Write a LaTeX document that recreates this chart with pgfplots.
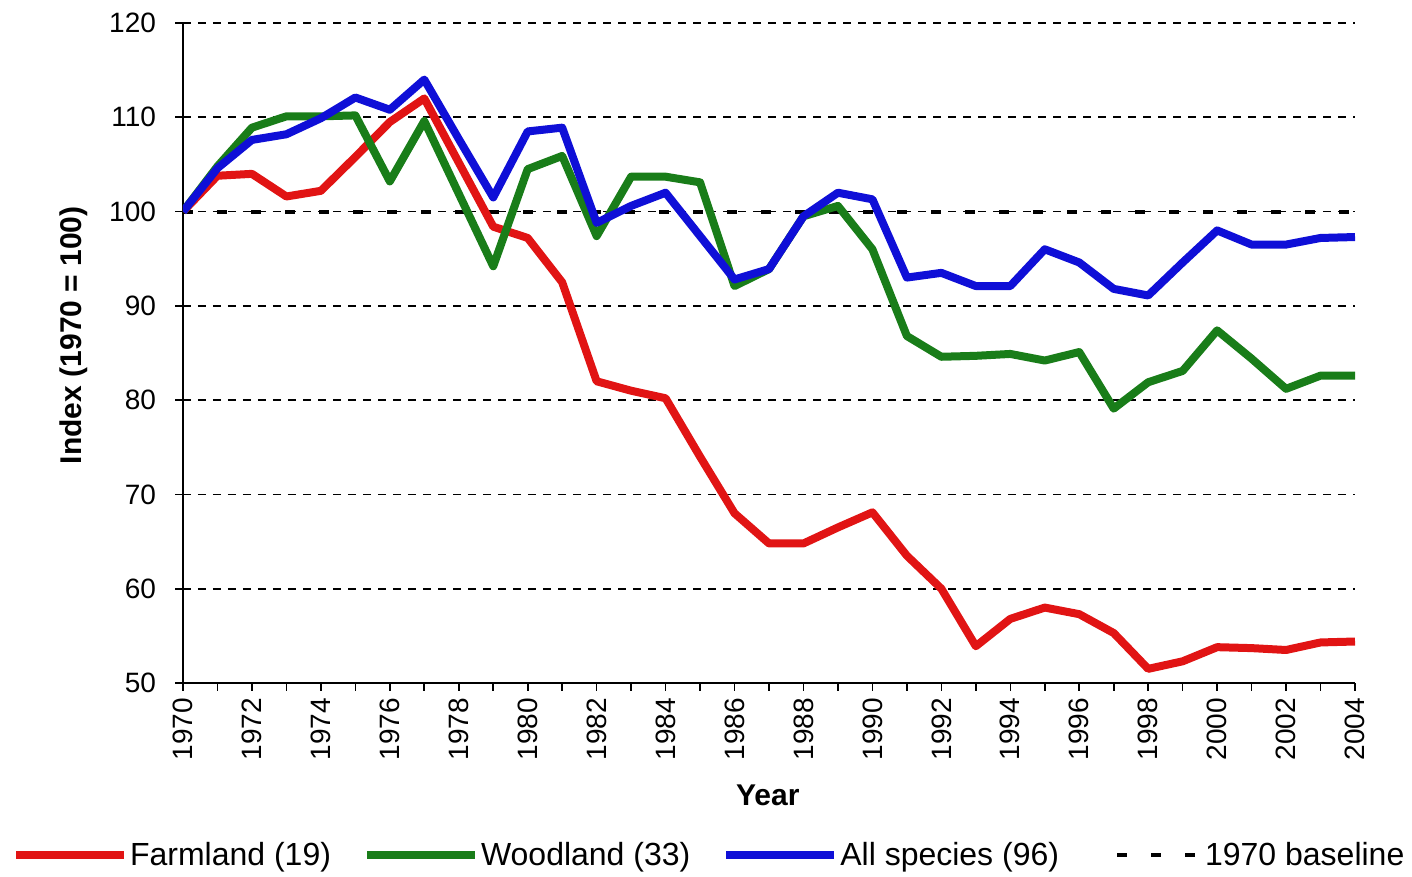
\documentclass[border=0pt]{standalone}
\usepackage{fontspec}
\setmainfont{Liberation Sans}
\usepackage{pgfplots}
\pgfplotsset{compat=1.18}
\definecolor{cred}{RGB}{225,20,20}
\definecolor{cgreen}{RGB}{25,125,25}
\definecolor{cblue}{RGB}{15,15,215}

\pgfplotstableread{
year farm wood all
1970 100   100   100
1971 103.8 104.8 104.6
1972 104.0 108.9 107.6
1973 101.6 110.1 108.2
1974 102.2 110.1 109.9
1975 105.8 110.2 112.1
1976 109.5 103.2 110.8
1977 112.0 109.6 114.0
1978 105.2 101.9 107.7
1979 98.4  94.2  101.5
1980 97.2  104.5 108.5
1981 92.5  105.9 108.9
1982 82.0  97.4  98.8
1983 81.0  103.7 100.6
1984 80.2  103.7 102.0
1985 74.0  103.1 97.4
1986 68.0  92.1  92.8
1987 64.8  93.9  93.9
1988 64.8  99.5  99.5
1989 66.5  100.6 102.0
1990 68.1  96.0  101.3
1991 63.5  86.8  93.0
1992 60.0  84.6  93.5
1993 53.9  84.7  92.1
1994 56.8  84.9  92.1
1995 58.0  84.2  96.0
1996 57.3  85.1  94.6
1997 55.3  79.1  91.8
1998 51.5  81.9  91.1
1999 52.3  83.1  94.6
2000 53.8  87.4  98.0
2001 53.7  84.4  96.5
2002 53.5  81.2  96.5
2003 54.3  82.6  97.2
2004 54.4  82.6  97.3
}\datatable

\begin{document}
\begin{tikzpicture}
\begin{axis}[
  scale only axis, width=586pt, height=330pt,
  xmin=1970, xmax=2004, ymin=50, ymax=120,
  axis lines*=left,
  axis line style={black, line width=1pt},
  xtick={1970,1972,...,2004},
  minor xtick={1971,1973,...,2003},
  ytick={50,60,...,120},
  tick align=outside,
  major tick length=4pt, minor tick length=4pt,
  tick style={black, line width=0.8pt},
  ymajorgrids,
  grid style={black, line width=0.8pt, dash pattern=on 4pt off 3.5pt},
  font=\fontsize{14}{17}\selectfont,
  /pgf/number format/1000 sep={},
  /pgf/number format/assume math mode=true,
  x tick label style={rotate=90, anchor=east},
  y tick label style={xshift=-6pt},
  xlabel={\bfseries Year},
  ylabel={\bfseries Index (1970 = 100)},
  xlabel style={at={(axis description cs:0.499,-0.17)}, anchor=center, font=\fontsize{15}{18}\selectfont},
  ylabel style={at={(axis description cs:-0.0935,0.527)}, anchor=center, font=\fontsize{15}{18}\selectfont},
  legend style={at={(axis description cs:0.449,-0.261)}, anchor=center,
    draw=none, fill=none, inner sep=0pt,
    font=\fontsize{16}{19}\selectfont,
    nodes={inner xsep=1pt},
    /tikz/every even column/.append style={column sep=15pt}},
  legend columns=4,
  legend cell align=left,
  legend image code/.code={\draw[#1] (0pt,0pt) -- (54pt,0pt);},
  line join=round,
]
\addplot[forget plot, black, line width=2pt, dash pattern=on 5pt off 12pt] coordinates {(1970,100) (2004,100)};
\addplot[cred, line width=4pt] table[x=year, y=farm] {\datatable};
\addlegendentry{Farmland (19)}
\addplot[cgreen, line width=4pt] table[x=year, y=wood] {\datatable};
\addlegendentry{Woodland (33)}
\addplot[cblue, line width=4pt] table[x=year, y=all] {\datatable};
\addlegendentry{All species (96)}
\addlegendimage{black, line width=2pt, dash pattern=on 5pt off 12pt, dash phase=5pt}
\addlegendentry{1970 baseline}
\end{axis}
\pgfresetboundingbox
\path[use as bounding box] (-91.5pt,-97pt) rectangle (614.5pt,341.5pt);
\end{tikzpicture}
\end{document}
